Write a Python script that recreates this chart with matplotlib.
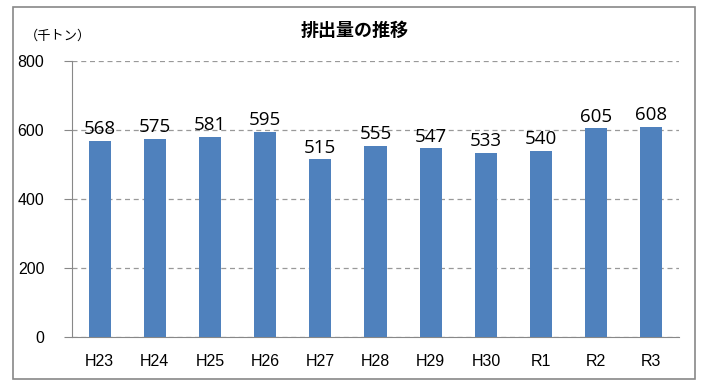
import matplotlib.pyplot as plt
from matplotlib.patches import Rectangle

plt.rcParams['font.family'] = ['Noto Sans CJK JP', 'DejaVu Sans']

years = ['H23', 'H24', 'H25', 'H26', 'H27', 'H28', 'H29', 'H30', 'R1', 'R2', 'R3']
values = [568, 575, 581, 595, 515, 555, 547, 533, 540, 605, 608]
yticks = [0, 200, 400, 600, 800]

fig = plt.figure(figsize=(7.09, 3.83), dpi=100)
ax = fig.add_axes([0.1016, 0.1201, 0.8561, 0.7206])

# outer chart frame
fig.patches.append(Rectangle((0.018, 0.01), 0.962, 0.972, transform=fig.transFigure,
                             fill=False, edgecolor='#888888', linewidth=1.2))

x = range(len(years))
bars = ax.bar(x, values, width=0.4, color='#4f81bd', zorder=3)
for i, v in zip(x, values):
    ax.text(i, v + 8, str(v), ha='center', va='bottom', fontsize=13.5, family=['Open Sans', 'DejaVu Sans'])

ax.set_xlim(-0.5, len(years) - 0.5)
ax.set_ylim(0, 800)
ax.set_yticks(yticks)
ax.set_xticks(list(x))
ax.set_xticklabels(years, fontsize=11.5, family=['Liberation Sans', 'DejaVu Sans'])
ax.set_yticklabels([str(t) for t in yticks], fontsize=11.5, family=['Liberation Sans', 'DejaVu Sans'])
ax.yaxis.grid(True, linestyle=(0, (4, 3)), color='#999999', linewidth=0.9, zorder=0)
ax.tick_params(axis='x', length=0, pad=12)
ax.tick_params(axis='y', length=6, color='#888888', pad=14)

for s in ['top', 'right']:
    ax.spines[s].set_visible(False)
ax.spines['left'].set_color('#888888')
ax.spines['bottom'].set_color('#888888')

fig.text(0.5, 0.92, '排出量の推移', ha='center', va='center', fontsize=13, fontweight='bold')
fig.text(0.035, 0.905, '（千トン）', ha='left', va='center', fontsize=9.5)

fig.savefig('out.png', dpi=100)
